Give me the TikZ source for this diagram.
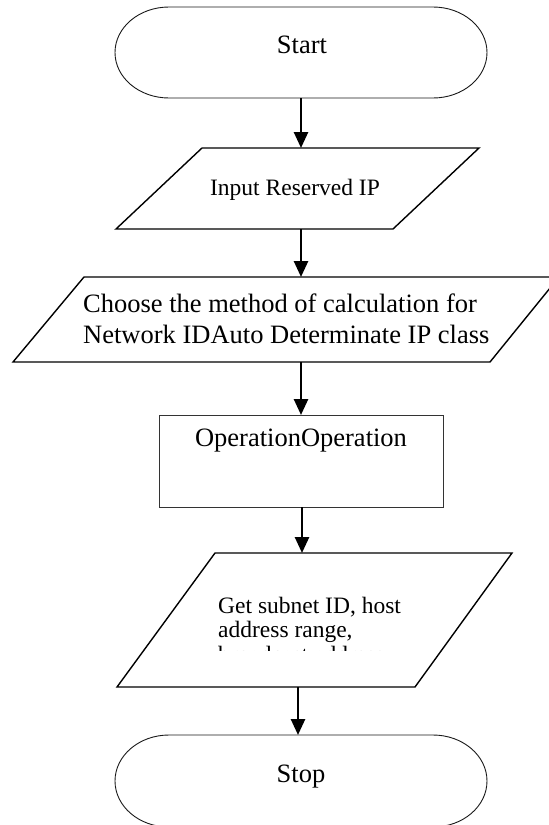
\documentclass[tikz,border=0pt]{standalone}
\usepackage{fontspec}
\setmainfont{Liberation Serif}
\usetikzlibrary{arrows.meta}
\tikzset{
  term/.style={draw=black!90, line width=0.9pt},
  io/.style={draw=black, line width=1.4pt, line join=miter},
  proc/.style={draw=black!80, line width=1.0pt},
  arr/.style={draw=black, line width=2.6pt, -{Triangle[length=16pt,width=14pt]}},
  big/.style={inner sep=0pt, font=\fontsize{26.5}{31}\selectfont},
  small/.style={inner sep=0pt, font=\fontsize{23.5}{24}\selectfont},
}
\begin{document}
\begin{tikzpicture}[x=1pt,y=1pt]
\useasboundingbox (0,0) rectangle (549,-825);
\clip (0,0) rectangle (549,-825);
% Start terminal
\draw[term] (169,-7) -- (433,-7) arc[start angle=90,end angle=-90,x radius=54,y radius=45.5]
  -- (169,-98) arc[start angle=270,end angle=90,x radius=54,y radius=45.5] -- cycle;
\node[big, anchor=base] (start) at (302,-53) {Start};
% Input parallelogram
\draw[io] (202,-148) -- (479,-148) -- (393,-229) -- (116,-229) -- cycle;
\node[small, anchor=base] (input) at (295,-195) {Input Reserved IP};
% Choose parallelogram
\draw[io] (84,-277) -- (559,-277) -- (490,-362) -- (13,-362) -- cycle;
\node[big, anchor=base west] (choose1) at (83,-312) {Choose the method of calculation for};
\node[big, anchor=base west] (choose2) at (83,-343) {Network IDAuto Determinate IP class};
% Operation rectangle
\draw[proc] (159,-415) rectangle (443,-507);
\node[big, anchor=base] (oper) at (301,-446) {OperationOperation};
% Output parallelogram
\draw[io] (215,-553) -- (512,-553) -- (415,-687) -- (117,-687) -- cycle;
\node[small, anchor=base west] (out1) at (218,-613) {Get subnet ID, host};
\node[small, anchor=base west] (out2) at (218,-637) {address range,};
\begin{scope}
\clip (0,0) rectangle (549,-650);
\node[small, anchor=base west] (out3) at (218,-662) {broadcast address};
\end{scope}
% Stop terminal
\draw[term] (169,-735) -- (433,-735) arc[start angle=90,end angle=-90,x radius=54,y radius=46]
  -- (169,-827) arc[start angle=270,end angle=90,x radius=54,y radius=46] -- cycle;
\node[big, anchor=base] (stop) at (301,-782) {Stop};
% connector end points
\coordinate (startB) at (301,-98);
\coordinate (inT) at (301,-148);
\coordinate (inB) at (301,-229);
\coordinate (chT) at (301,-277);
\coordinate (chB) at (301,-362);
\coordinate (opT) at (301,-415);
\coordinate (opB) at (302,-507);
\coordinate (outT) at (302,-553);
\coordinate (outB) at (298,-687);
\coordinate (stopT) at (298,-735);
\draw[arr] (startB) -- (inT);
\draw[arr] (inB) -- (chT);
\draw[arr] (chB) -- (opT);
\draw[arr] (opB) -- (outT);
\draw[arr] (outB) -- (stopT);
\end{tikzpicture}
\end{document}
